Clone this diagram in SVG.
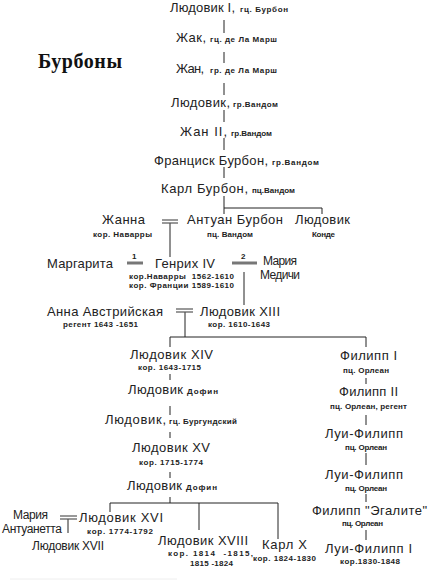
<svg xmlns="http://www.w3.org/2000/svg" width="443" height="584" viewBox="0 0 443 584">
<style>
.n{font-family:"Liberation Sans",Arial,sans-serif;font-size:13px;fill:#222}
.m{font-family:"Liberation Sans",Arial,sans-serif;font-size:12px;fill:#222}
.s{font-family:"Liberation Sans",Arial,sans-serif;font-size:8px;font-weight:bold;fill:#222}
.t{font-family:"Liberation Serif","Times New Roman",serif;font-size:20px;font-weight:bold;fill:#111}
.c line{stroke:#222;stroke-width:1}
.mr line{stroke:#555;stroke-width:1.2}
.mt line{stroke:#777;stroke-width:3}
</style>
<rect width="443" height="584" fill="#fff"/>
<text class="t" x="38" y="68" textLength="84">Бурбоны</text>

<g id="connectors" class="c">
<line x1="224" y1="20" x2="224" y2="33"/>
<line x1="224" y1="52" x2="224" y2="63"/>
<line x1="224" y1="83" x2="224" y2="95"/>
<line x1="224" y1="110" x2="224" y2="122"/>
<line x1="224" y1="138" x2="224" y2="150"/>
<line x1="224" y1="167" x2="224" y2="178"/>
<line x1="224" y1="196" x2="224" y2="214"/>
<line x1="224" y1="208" x2="322" y2="208"/>
<line x1="322" y1="208" x2="322" y2="214"/>
<line x1="170" y1="223" x2="170" y2="257"/>
<line x1="244" y1="272" x2="244" y2="305"/>
<line x1="185" y1="312" x2="185" y2="337"/>
<line x1="170" y1="337" x2="366" y2="337"/>
<line x1="170" y1="337" x2="170" y2="347"/>
<line x1="366" y1="337" x2="366" y2="347"/>
<line x1="170" y1="374" x2="170" y2="380"/>
<line x1="170" y1="406" x2="170" y2="415"/>
<line x1="170" y1="432" x2="170" y2="438"/>
<line x1="170" y1="472" x2="170" y2="478"/>
<line x1="170" y1="497" x2="170" y2="503"/>
<line x1="110" y1="503" x2="278" y2="503"/>
<line x1="110" y1="503" x2="110" y2="512"/>
<line x1="199" y1="503" x2="199" y2="530"/>
<line x1="278" y1="503" x2="278" y2="539"/>
<line x1="68" y1="519" x2="68" y2="533"/>
<line x1="366" y1="378" x2="366" y2="384"/>
<line x1="366" y1="415" x2="366" y2="425"/>
<line x1="366" y1="453" x2="366" y2="465"/>
<line x1="366" y1="494" x2="366" y2="502"/>
<line x1="366" y1="530" x2="366" y2="540"/>
</g>
<g id="marriages">
<g class="mr">
<line x1="162" y1="220" x2="178" y2="220"/>
<line x1="162" y1="223" x2="178" y2="223"/>
<line x1="176" y1="309" x2="193" y2="309"/>
<line x1="176" y1="312" x2="193" y2="312"/>
<line x1="60" y1="516" x2="77" y2="516"/>
<line x1="60" y1="519" x2="77" y2="519"/>
</g>
<g class="mt">
<line x1="127" y1="263" x2="143" y2="263"/>
<line x1="232" y1="263" x2="257" y2="263"/>
</g>
<text class="s" x="132" y="259">1</text>
<text class="s" x="241" y="259">2</text>
</g>

<g id="n1"><text class="n" x="170" y="12" textLength="65">Людовик I,</text><text class="s" x="240" y="12" textLength="48">гц. Бурбон</text></g>
<g id="n2"><text class="n" x="176" y="42" textLength="30">Жак,</text><text class="s" x="210" y="42" textLength="67">гц. де Ла Марш</text></g>
<g id="n3"><text class="n" x="176" y="73" textLength="28">Жан,</text><text class="s" x="210" y="73" textLength="67">гр. де Ла Марш</text></g>
<g id="n4"><text class="n" x="171" y="107" textLength="59">Людовик,</text><text class="s" x="233" y="107" textLength="45">гр.Вандом</text></g>
<g id="n5"><text class="n" x="180" y="136" textLength="47">Жан II,</text><text class="s" x="231" y="136" textLength="41">гр.Вандом</text></g>
<g id="n6"><text class="n" x="154" y="165" textLength="114">Франциск Бурбон,</text><text class="s" x="272" y="165" textLength="47">гр.Вандом</text></g>
<g id="n7"><text class="n" x="161" y="193" textLength="87">Карл Бурбон,</text><text class="s" x="252" y="193" textLength="43">пц.Вандом</text></g>

<g id="zhanna"><text class="n" x="102" y="224" textLength="43">Жанна</text><text class="s" x="93" y="237" textLength="59">кор. Наварры</text></g>
<g id="antuan"><text class="n" x="187" y="224" textLength="96">Антуан Бурбон</text><text class="s" x="207" y="237" textLength="46">пц. Вандом</text></g>
<g id="konde"><text class="n" x="295" y="224" textLength="55">Людовик</text><text class="s" x="312" y="237" textLength="23">Конде</text></g>

<g id="margarita"><text class="n" x="47" y="268" textLength="66">Маргарита</text></g>
<g id="henri4"><text class="n" x="155" y="268" textLength="60">Генрих IV</text><text class="s" x="129" y="279" textLength="105" xml:space="preserve">кор.Наварры  1562-1610</text><text class="s" x="129" y="288" textLength="105">кор. Франции 1589-1610</text></g>
<g id="medici"><text class="m" x="263" y="265" textLength="34">Мария</text><text class="m" x="260" y="279" textLength="40">Медичи</text></g>

<g id="anna"><text class="n" x="47" y="316" textLength="116">Анна Австрийская</text><text class="s" x="63" y="327" textLength="75">регент 1643 -1651</text></g>
<g id="louis13"><text class="n" x="200" y="316" textLength="80">Людовик XIII</text><text class="s" x="208" y="327" textLength="62">кор. 1610-1643</text></g>

<g id="louis14"><text class="n" x="130" y="359" textLength="83">Людовик XIV</text><text class="s" x="138" y="370" textLength="63">кор. 1643-1715</text></g>
<g id="dauphin1"><text class="n" x="128" y="394" textLength="55">Людовик</text><text class="s" x="187" y="394" textLength="31">Дофин</text></g>
<g id="burgundy"><text class="n" x="105" y="424" textLength="61">Людовик,</text><text class="s" x="169" y="424" textLength="68">гц. Бургундский</text></g>
<g id="louis15"><text class="n" x="132" y="452" textLength="78">Людовик XV</text><text class="s" x="139" y="465" textLength="64">кор. 1715-1774</text></g>
<g id="dauphin2"><text class="n" x="127" y="490" textLength="55">Людовик</text><text class="s" x="186" y="490" textLength="31">Дофин</text></g>

<g id="antoinette"><text class="m" x="13" y="519" textLength="35">Мария</text><text class="m" x="2" y="533" textLength="60">Антуанетта</text></g>
<g id="louis16"><text class="n" x="79" y="522" textLength="84">Людовик XVI</text><text class="s" x="87" y="534" textLength="66">кор. 1774-1792</text></g>
<g id="louis17"><text class="m" x="32" y="550" textLength="72">Людовик XVII</text></g>
<g id="louis18"><text class="n" x="158" y="545" textLength="90">Людовик XVIII</text><text class="s" x="168" y="556" textLength="85" xml:space="preserve">кор. 1814  -1815,</text><text class="s" x="190" y="566" textLength="43">1815 -1824</text></g>
<g id="charles10"><text class="n" x="262" y="549" textLength="45">Карл Х</text><text class="s" x="253" y="561" textLength="63">кор. 1824-1830</text></g>

<g id="philippe1"><text class="n" x="340" y="360" textLength="57">Филипп I</text><text class="s" x="343" y="373" textLength="46">пц. Орлеан</text></g>
<g id="philippe2"><text class="n" x="339" y="396" textLength="59">Филипп II</text><text class="s" x="330" y="409" textLength="77">пц. Орлеан, регент</text></g>
<g id="lp1"><text class="n" x="325" y="438" textLength="78">Луи-Филипп</text><text class="s" x="345" y="450" textLength="42">пц. Орлеан</text></g>
<g id="lp2"><text class="n" x="325" y="479" textLength="78">Луи-Филипп</text><text class="s" x="345" y="491" textLength="42">пц. Орлеан</text></g>
<g id="egalite"><text class="n" x="312" y="515" textLength="115">Филипп "Эгалите"</text><text class="s" x="342" y="526" textLength="41">пц. Орлеан</text></g>
<g id="lp3"><text class="n" x="325" y="553" textLength="87">Луи-Филипп I</text><text class="s" x="340" y="564" textLength="60">кор.1830-1848</text></g>

<line x1="10" y1="579" x2="177" y2="579" stroke="#eee" stroke-width="1"/>
</svg>
